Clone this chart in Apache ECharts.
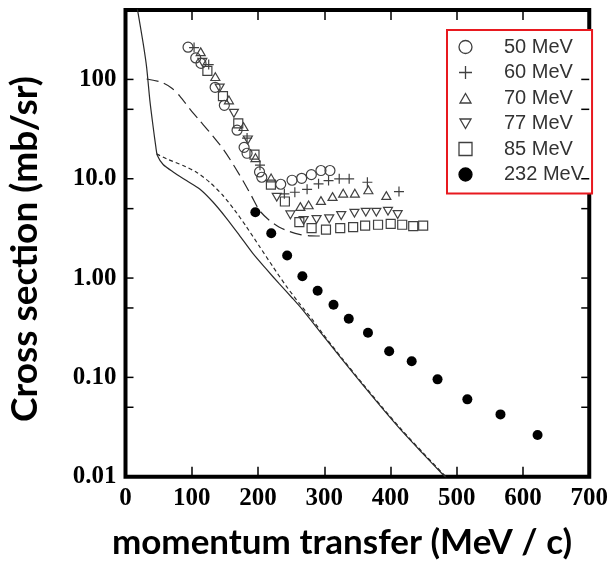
<!DOCTYPE html>
<html>
<head>
<meta charset="utf-8">
<script src="https://cdn.jsdelivr.net/npm/echarts@6/dist/echarts.min.js"></script>
<style>
  html, body { margin: 0; padding: 0; background: #fff; }
  #chart { width: 611px; height: 565px; }
</style>
</head>
<body>
<div id="chart"></div>
<script>
// Measured cross sections [momentum transfer (MeV/c), cross section (mb/sr)]
const mev50 = [[94.4,211],[106,164.5],[114,145],[135.3,83.3],[149.2,54.9],[168.4,30.8],[179,20.7],[183.5,18.05],[202.3,11.7],[205.7,10.35],[234.3,8.8],[251.4,9.66],[265.9,10.1],[280.5,11.0],[295,12.1],[308.6,12.1]];
const mev60 = [[103.5,209],[125.6,141],[183.5,25.7],[203,13.7],[239.8,7.05],[255.6,7.31],[274.1,7.82],[291.4,8.89],[306.5,9.59],[322.6,9.98],[337.6,9.98],[365.1,9.22],[412.8,7.43]];
const mev70 = [[113.5,190],[135.6,106.7],[156.1,62.2],[178.2,33.5],[196.2,16.3],[219.8,10.2],[263.9,5.25],[276.4,5.46],[295,6.03],[312.5,6.62],[328.6,7.15],[346.2,7.15],[366.6,7.73],[393.7,6.78]];
const mev77 = [[116,149],[142.1,82.1],[163.6,45.6],[184.7,24.6],[228.3,6.51],[248.9,4.33],[268.9,3.80],[288.4,3.89],[307.5,3.95],[325.6,4.26],[345.6,4.50],[362.7,4.60],[378.6,4.60],[396.2,4.71],[410.8,4.36]];
const mev85 = [[123.6,121.8],[147.1,67.9],[170.2,36.1],[194.7,17.5],[219.5,8.74],[240.6,5.90],[262.4,3.65],[280.9,3.18],[302.6,3.08],[324.1,3.18],[343.6,3.25],[361.7,3.38],[381.2,3.44],[400.3,3.52],[417.7,3.44],[434.3,3.33],[449.3,3.38]];
const mev232 = [[196,4.60],[220,2.83],[244,1.69],[267,1.045],[290,0.745],[314,0.539],[337,0.389],[366,0.282],[398,0.1835],[432,0.1455],[471,0.0955],[516,0.0601],[566,0.0424],[622,0.0263]];

// Calculated curves
const curveSolid = [[13,800],[19.2,456],[26.8,227.6],[31.9,132.3],[36.8,61.2],[41.8,33],[45.9,20.7],[48.1,17.1],[56.8,13.9],[71.9,11.7],[92,9.59],[112,7.88],[132,5.83],[152.2,4.02],[172.2,2.68],[192.2,1.77],[212.3,1.235],[232.3,0.872],[252.3,0.623],[267.4,0.478],[297.4,0.2677],[327.5,0.150],[357.6,0.0850],[387.7,0.0488],[417.7,0.0286],[447.8,0.0174],[477.9,0.0107],[490,0.0089]];
const curveShortDash = [[46.9,17.8],[62,15.86],[86.9,13.58],[107.1,11.63],[127.1,9.22],[147.1,6.78],[164.7,4.84],[182.3,3.30],[202.3,2.08],[222.3,1.308],[242.4,0.833],[262.4,0.555],[282.4,0.379],[297.4,0.277],[327.5,0.1535],[357.6,0.0870],[387.7,0.0499],[417.7,0.0293],[447.8,0.0178],[477.9,0.01094],[491,0.0089]];
const curveLongDash = [[31.9,101],[54.4,93.5],[69.5,82.1],[82,67.9],[97,50.5],[112,38.5],[127.1,29.4],[147.1,20.0],[162.1,14.1],[177.1,9.59],[189.8,6.78],[202.3,4.79],[217.3,3.8],[232.3,3.25],[247,2.95],[262.4,2.75],[280,2.66],[297.4,2.65]];

// Axis ticks and labels
const xTickValues = [0, 100, 200, 300, 400, 500, 600, 700];
const yLabelValues = [0.01, 0.1, 1, 10, 100];
const yLabelTexts = ['0.01', '0.10', '1.00', '10.0', '100'];
const yTickValues = [0.05, 0.1, 0.5, 1, 5, 10, 50, 100];

const markStroke = '#404040';
const lineInk = '#2a2a2a';

function openMarks(name, data, symbol, size) {
  return {
    name: name, type: 'scatter', data: data, symbol: symbol, symbolSize: size,
    symbolKeepAspect: true, silent: true, z: 5,
    itemStyle: { color: 'none', borderColor: markStroke, borderWidth: 1.2, opacity: 1 }
  };
}
function curve(data, dash) {
  return {
    type: 'line', data: data, showSymbol: false, symbol: 'none', smooth: 0.25,
    clip: true, silent: true, z: 3,
    lineStyle: { color: lineInk, width: 1.2, type: dash }
  };
}

// Inward tick marks on the left and right frame edges at 1x and 5x each decade
const yTickSeries = {
  type: 'custom', silent: true, clip: false, z: 10,
  data: yTickValues.map(v => [0, v]),
  renderItem: function (params, api) {
    const v = api.value(1);
    const l = api.coord([0, v]);
    const r = api.coord([700, v]);
    const st = { stroke: '#000', lineWidth: 1.5 };
    return {
      type: 'group',
      children: [
        { type: 'line', shape: { x1: l[0], y1: l[1], x2: l[0] + 8, y2: l[1] }, style: st },
        { type: 'line', shape: { x1: r[0] - 8, y1: r[1], x2: r[0], y2: r[1] }, style: st }
      ]
    };
  }
};

const tickStyle = { color: '#000', width: 1.5 };
const legendTri = 'path://M0,0M13,13M6.5,2L12,11.5L1,11.5Z';
const legendTriDown = 'path://M0,0M13,13M1,2L12,2L6.5,11.5Z';

const chart = echarts.init(document.getElementById('chart'));
chart.setOption({
  animation: false,
  backgroundColor: '#fff',
  grid: { left: 125.5, right: 19.5, top: 10, bottom: 88.3, show: true, borderColor: '#000', borderWidth: 4, backgroundColor: 'transparent' },
  legend: {
    data: [
      { name: '50 MeV' },
      { name: '60 MeV' },
      { name: '70 MeV', icon: legendTri },
      { name: '77 MeV', icon: legendTriDown },
      { name: '85 MeV' },
      { name: '232 MeV' }
    ],
    orient: 'vertical', left: 447, top: 30,
    padding: [7, 8, 9, 9.5], itemGap: 5.5, itemWidth: 13, itemHeight: 13,
    borderColor: '#e8191f', borderWidth: 2, backgroundColor: '#fff',
    selectedMode: false,
    itemStyle: { borderWidth: 1.3, opacity: 1 },
    textStyle: { fontFamily: 'Liberation Sans', fontSize: 20, color: '#333', lineHeight: 20, padding: [0, 0, 0, 27] }
  },
  xAxis: [{
    type: 'value', min: 0, max: 700, interval: 100, position: 'bottom',
    axisLine: { show: false }, splitLine: { show: false },
    axisTick: { inside: true, length: 10, lineStyle: tickStyle },
    axisLabel: {
      margin: 9, fontFamily: 'Liberation Serif', fontWeight: 'bold', fontSize: 25, color: '#000',
      showMinLabel: true, showMaxLabel: true,
      formatter: v => (xTickValues.indexOf(v) >= 0 ? String(v) : '')
    }
  }, {
    type: 'value', min: 0, max: 700, interval: 100, position: 'top',
    axisLine: { show: false }, splitLine: { show: false },
    axisTick: { inside: true, length: 10, lineStyle: tickStyle },
    axisLabel: { show: false }
  }],
  yAxis: [{
    type: 'log', logBase: 10, min: 0.01, max: 500, position: 'left',
    axisLine: { show: false }, splitLine: { show: false },
    axisTick: { show: false },
    axisLabel: {
      customValues: yLabelValues, margin: 9,
      fontFamily: 'Liberation Serif', fontWeight: 'bold', fontSize: 25, color: '#000',
      formatter: v => yLabelTexts[Math.round(Math.log10(v)) + 2]
    }
  }, {
    type: 'log', logBase: 10, min: 0.01, max: 500, position: 'right',
    axisLine: { show: false }, splitLine: { show: false },
    axisTick: { show: false },
    axisLabel: { show: false }
  }],
  graphic: [{
    type: 'text', x: 25, y: 249, rotation: Math.PI / 2,
    style: { text: 'Cross section (mb/sr)', font: 'bold 37px Lato', fill: '#000', textAlign: 'center', textVerticalAlign: 'middle' }
  }, {
    type: 'text', x: 342, y: 543,
    style: { text: 'momentum transfer (MeV / c)', font: 'bold 35px Lato', fill: '#000', textAlign: 'center', textVerticalAlign: 'middle' }
  }],
  series: [
    curve(curveSolid, 'solid'),
    curve(curveShortDash, [4, 3]),
    curve(curveLongDash, [12, 6]),
    openMarks('50 MeV', mev50, 'circle', 10),
    openMarks('60 MeV', mev60, 'path://M5,0L5,10M0,5L10,5', 10),
    openMarks('70 MeV', mev70, 'path://M5,0L10,8.66L0,8.66Z', 9),
    openMarks('77 MeV', mev77, 'path://M0,0L10,0L5,8.66Z', 9),
    openMarks('85 MeV', mev85, 'rect', 9),
    {
      name: '232 MeV', type: 'scatter', data: mev232, symbol: 'circle', symbolSize: 10,
      silent: true, z: 5, itemStyle: { color: '#000', borderColor: '#000', borderWidth: 0, opacity: 1 }
    },
    yTickSeries
  ]
});
</script>
</body>
</html>
